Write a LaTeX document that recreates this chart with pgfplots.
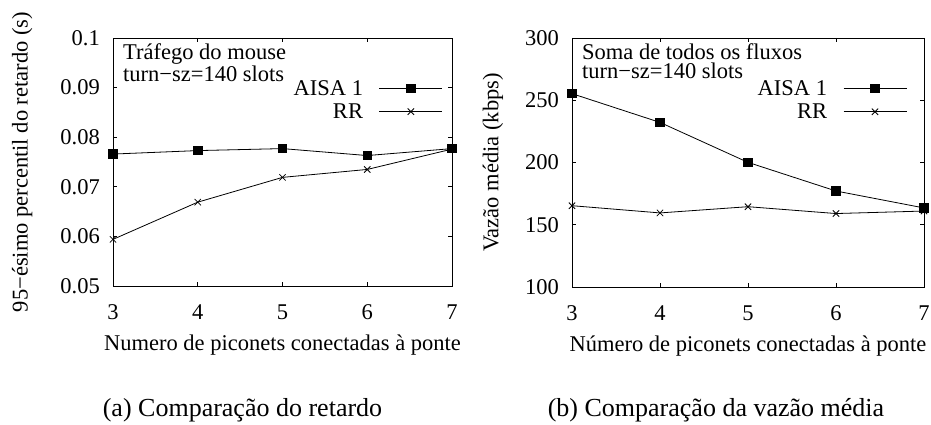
\documentclass[border=0pt]{standalone}
\usepackage{fontspec}
\setmainfont{Liberation Serif}
\usepackage{pgfplots}
\pgfplotsset{compat=1.18}
\newcommand{\gpfont}{\fontsize{22.5}{26}\selectfont}
\tikzset{note/.style={font=\fontsize{22.5}{19}\selectfont, align=left, anchor=north west, inner sep=0pt}}
\pgfplotsset{
  gp/.style={
    scale only axis,
    font=\gpfont,
    xmin=3, xmax=7, xtick={3,4,5,6,7}, xticklabels={3,4,5,6,7},
    tick align=inside, major tick length=4pt,
    every tick/.style={black, line width=0.6pt},
    axis line style={line width=0.8pt},
    xticklabel style={anchor=center, yshift=-26pt},
    yticklabel style={anchor=east, inner sep=0pt, xshift=-13pt},
    every axis x label/.style={at={(axis description cs:0.5,0)}, anchor=center, yshift=-59pt},
    clip=false,
    legend plot pos=right,
    legend cell align=right,
    legend style={draw=none, fill=none, anchor=north east, inner sep=0pt,
      row sep=5pt, column sep=15pt, font=\gpfont,
      nodes={inner sep=1pt}},
    legend image code/.code={\draw[mark repeat=2,mark phase=2,##1] plot coordinates {(0pt,0pt) (31.5pt,0pt) (63pt,0pt)};},
  },
  aisa/.style={black, line width=0.8pt, mark=square*, mark size=4.2pt, mark options={solid}},
  rr/.style={black, line width=0.8pt, mark=x, mark size=4.5pt, mark options={solid, line width=0.8pt}},
}
\begin{document}
\begin{tikzpicture}
\useasboundingbox (0pt,0pt) rectangle (931pt,425pt);
% ---------- (a) ----------
\begin{axis}[gp,
  at={(113pt,139pt)}, anchor=south west, width=339pt, height=248pt,
  ymin=0.05, ymax=0.1, ytick={0.05,0.06,0.07,0.08,0.09,0.1},
  yticklabels={0.05,0.06,0.07,0.08,0.09,0.1},
  xlabel={Numero de piconets conectadas à ponte},
  ylabel={95−ésimo percentil do retardo (s)},
  every axis y label/.style={at={(axis description cs:-0.268,0.5)}, rotate=90, anchor=center},
  legend style={at={(axis description cs:0.9735,0.835)}},
]
\addplot[aisa] coordinates {(3,0.0766) (4,0.0773) (5,0.0777) (6,0.0763) (7,0.0777)};
\addlegendentry{AISA 1}
\addplot[rr] coordinates {(3,0.0594) (4,0.0669) (5,0.0719) (6,0.0735) (7,0.0776)};
\addlegendentry{RR}
\node[note] at (axis description cs:0.0295,0.977) {Tráfego do mouse\\turn−sz=140 slots};
\end{axis}
% ---------- (b) ----------
\begin{axis}[gp,
  at={(572pt,138pt)}, anchor=south west, width=352pt, height=249pt,
  ymin=100, ymax=300, ytick={100,150,200,250,300},
  yticklabels={100,150,200,250,300},
  xlabel={Número de piconets conectadas à ponte},
  ylabel={Vazão média (kbps)},
  every axis y label/.style={at={(axis description cs:-0.2244,0.5)}, rotate=90, anchor=center},
  legend style={at={(axis description cs:0.952,0.835)}},
]
\addplot[aisa] coordinates {(3,255.3) (4,232.2) (5,200.1) (6,177.1) (7,163.5)};
\addlegendentry{AISA 1}
\addplot[rr] coordinates {(3,165.3) (4,159.5) (5,164.5) (6,159.0) (7,161.0)};
\addlegendentry{RR}
\node[note] at (axis description cs:0.0284,0.98) {Soma de todos os fluxos\\turn−sz=140 slots};
\end{axis}
% ---------- captions ----------
\node[font=\fontsize{26}{30}\selectfont] at (242.5pt,15pt) {(a) Comparação do retardo};
\node[font=\fontsize{26}{30}\selectfont] at (716pt,15pt) {(b) Comparação da vazão média};
\end{tikzpicture}
\end{document}
